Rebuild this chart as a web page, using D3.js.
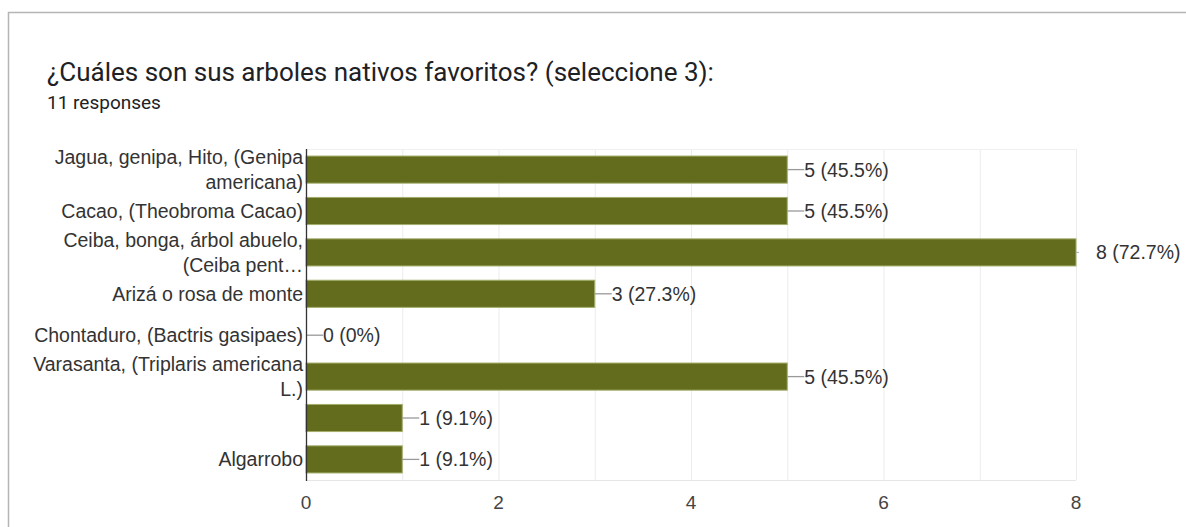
<!DOCTYPE html>
<html><head><meta charset="utf-8">
<script src="https://cdn.jsdelivr.net/npm/d3@7"></script>
<style>
body{margin:0;background:#fff;}
svg{display:block;}
</style></head>
<body>
<svg id="c" width="1186" height="527"></svg>
<script>
const title = "¿Cuáles son sus arboles nativos favoritos? (seleccione 3):";
const subtitle = "11 responses";
const categories = [
  ["Jagua, genipa, Hito, (Genipa", "americana)"],
  ["Cacao, (Theobroma Cacao)"],
  ["Ceiba, bonga, árbol abuelo,", "(Ceiba pent…"],
  ["Arizá o rosa de monte"],
  ["Chontaduro, (Bactris gasipaes)"],
  ["Varasanta, (Triplaris americana", "L.)"],
  [""],
  ["Algarrobo"]
];
const values = [5, 5, 8, 3, 0, 5, 1, 1];
const valueLabels = ["5 (45.5%)","5 (45.5%)","8 (72.7%)","3 (27.3%)","0 (0%)","5 (45.5%)","1 (9.1%)","1 (9.1%)"];
const xTicks = [0, 2, 4, 6, 8];

const svg = d3.select("#c");
svg.append("rect").attr("x",8.5).attr("y",12.5).attr("width",1200).attr("height",540)
  .attr("fill","#fff").attr("stroke","#b5b5b5").attr("stroke-width",1.5);

svg.append("text").attr("x",47).attr("y",81).text(title)
  .attr("font-family","Roboto, sans-serif").attr("font-size",26).attr("fill","#202124");
svg.append("text").attr("x",47).attr("y",109).text(subtitle)
  .attr("font-family","Roboto, sans-serif").attr("font-size",19).attr("fill","#202124");

const pLeft = 306, pRight = 1076, pTop = 149, pBottom = 480;
const x = d3.scaleLinear().domain([0, 8]).range([pLeft, pRight]);
const y = d3.scaleBand().domain(d3.range(categories.length)).range([pTop, pBottom]).paddingInner(0.345).paddingOuter(0.17);

svg.append("g").selectAll("line").data(d3.range(0, 9)).join("line")
  .attr("x1", d=>x(d)+0.5).attr("x2", d=>x(d)+0.5).attr("y1", pTop).attr("y2", pBottom)
  .attr("stroke","#ececec").attr("stroke-width",1);
svg.append("line").attr("x1",pLeft).attr("x2",pRight).attr("y1",pBottom+0.5).attr("y2",pBottom+0.5).attr("stroke","#e6e6e6");
svg.append("line").attr("x1",pLeft).attr("x2",pRight).attr("y1",pTop+0.5).attr("y2",pTop+0.5).attr("stroke","#f0f0f0");

svg.append("g").selectAll("rect").data(values).join("rect")
  .attr("x", x(0)).attr("y", (d,i)=>y(i)).attr("width", d=>x(d)-x(0)).attr("height", y.bandwidth())
  .attr("fill","#636b1c").attr("stroke", d=> d>0 ? "#a3ad6b" : "none").attr("stroke-width",1);

const fontChart = "Liberation Sans, Arial, sans-serif";
const lg = svg.append("g").attr("font-family",fontChart).attr("font-size",19.5).attr("fill","#333");
values.forEach((v,i)=>{
  const cy = y(i) + y.bandwidth()/2;
  const x0 = x(v);
  if (v === 8) {
    svg.append("line").attr("x1",x0).attr("x2",x0+3).attr("y1",cy).attr("y2",cy).attr("stroke","#aaa");
    lg.append("text").attr("x",x0+20).attr("y",cy).attr("dy","0.36em").text(valueLabels[i]);
  } else {
    svg.append("line").attr("x1",x0).attr("x2",x0+17).attr("y1",cy).attr("y2",cy).attr("stroke","#999").attr("stroke-width",1.3);
    lg.append("text").attr("x",x0+17).attr("y",cy).attr("dy","0.36em").text(valueLabels[i]);
  }
});

svg.append("line").attr("x1",pLeft+0.5).attr("x2",pLeft+0.5).attr("y1",pTop).attr("y2",pBottom+1).attr("stroke","#333").attr("stroke-width",1.3);

const cg = svg.append("g").attr("font-family",fontChart).attr("font-size",19.5).attr("fill","#333").attr("text-anchor","end");
categories.forEach((lines,i)=>{
  const cy = y(i) + y.bandwidth()/2;
  const lh = 25;
  lines.forEach((t,j)=>{
    cg.append("text").attr("x",pLeft-3).attr("y", cy + (j - (lines.length-1)/2)*lh).attr("dy","0.36em").text(t);
  });
});

svg.append("g").attr("font-family",fontChart).attr("font-size",19).attr("fill","#444").attr("text-anchor","middle")
  .selectAll("text").data(xTicks).join("text")
  .attr("x", d=>x(d)).attr("y", 509).text(d=>d);
</script>
</body></html>
